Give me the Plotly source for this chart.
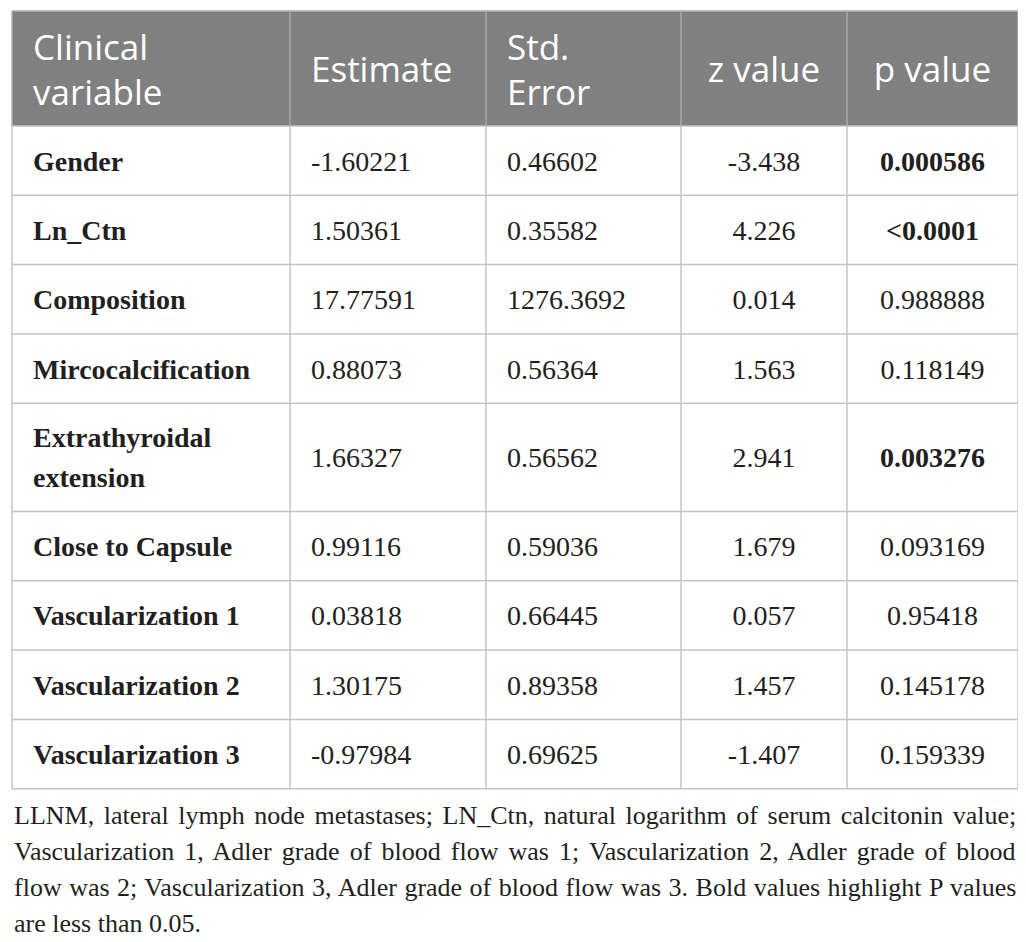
import plotly.graph_objects as go

# table content
headers = ["Clinical<br>variable", "Estimate", "Std.<br>Error", "z value", "p value"]
variables = ["Gender", "Ln_Ctn", "Composition", "Mircocalcification",
             "Extrathyroidal<br>extension", "Close to Capsule",
             "Vascularization 1", "Vascularization 2", "Vascularization 3"]
estimate = ["-1.60221", "1.50361", "17.77591", "0.88073", "1.66327",
            "0.99116", "0.03818", "1.30175", "-0.97984"]
std_error = ["0.46602", "0.35582", "1276.3692", "0.56364", "0.56562",
             "0.59036", "0.66445", "0.89358", "0.69625"]
z_value = ["-3.438", "4.226", "0.014", "1.563", "2.941",
           "1.679", "0.057", "1.457", "-1.407"]
p_value = ["0.000586", "<0.0001", "0.988888", "0.118149", "0.003276",
           "0.093169", "0.95418", "0.145178", "0.159339"]

footnote = [
    "LLNM, lateral lymph node metastases; LN_Ctn, natural logarithm of serum calcitonin value;",
    "Vascularization 1, Adler grade of blood flow was 1; Vascularization 2, Adler grade of blood",
    "flow was 2; Vascularization 3, Adler grade of blood flow was 3. Bold values highlight P values",
    "are less than 0.05.",
]
# extra word spacing (px) to imitate the justified paragraph
foot_spacing = [3.1, 3.6, 1.0, 0]

# page body has an 8px margin, so the figure is shrunk and the axes offset
OFF = 8
W, H = 1026 - 2 * OFF, 942 - 2 * OFF
col_edges = [12, 290, 486, 681, 847, 1018]
align = ["left", "left", "left", "center", "center"]
pad = 21
table_top = 11
header_h = 115
row_h = 69.3
line_h = 39

HEAD_FILL = "#808080"
GRID = "#c4c4c4"
INK = "#231f20"
SERIF = "Liberation Serif"
SANS = "Open Sans"


def esc(s):
    return s.replace("<0", "&lt;0")


def significant(p):
    return float(p.lstrip("<")) < 0.05


columns = [
    ["<b>%s</b>" % v for v in variables],
    estimate,
    std_error,
    z_value,
    ["<b>%s</b>" % esc(p) if significant(p) else p for p in p_value],
]

# row boundaries from number of text lines
y_edges = [table_top, table_top + header_h]
for v in variables:
    n = v.count("<br>") + 1
    y_edges.append(y_edges[-1] + row_h + (n - 1) * line_h)


def col_x(c):
    if align[c] == "left":
        return col_edges[c] + pad
    return (col_edges[c] + col_edges[c + 1]) / 2


def place(texts, c, tops, bottoms, lh, dy):
    xs, ys, ts = [], [], []
    for t, y0, y1 in zip(texts, tops, bottoms):
        parts = t.split("<br>")
        if t.startswith("<b>") and len(parts) > 1:
            parts = ["<b>%s</b>" % p.replace("<b>", "").replace("</b>", "") for p in parts]
        yc = (y0 + y1) / 2 + dy
        for k, p in enumerate(parts):
            xs.append(col_x(c))
            ys.append(yc + (k - (len(parts) - 1) / 2) * lh)
            ts.append(p)
    return xs, ys, ts


fig = go.Figure()

# header background
fig.add_shape(type="rect", x0=col_edges[0], x1=col_edges[-1], y0=y_edges[0], y1=y_edges[1],
              fillcolor=HEAD_FILL, line_width=0, layer="below")

# grid lines
for y in y_edges[1:]:
    fig.add_shape(type="line", x0=col_edges[0], x1=col_edges[-1], y0=y, y1=y,
                  line=dict(color=GRID, width=1.5))
fig.add_shape(type="line", x0=col_edges[0], x1=col_edges[-1], y0=y_edges[0], y1=y_edges[0],
              line=dict(color="#b0b0b0", width=1.5))
for i, x in enumerate(col_edges):
    outer = i in (0, len(col_edges) - 1)
    fig.add_shape(type="line", x0=x, x1=x, y0=y_edges[0], y1=y_edges[1],
                  line=dict(color="#a8a8a8" if not outer else "#b0b0b0", width=1.5))
    fig.add_shape(type="line", x0=x, x1=x, y0=y_edges[1], y1=y_edges[-1],
                  line=dict(color=GRID, width=1.5))

# header text (one text block per cell, plotly handles the line break)
for c, h in enumerate(headers):
    fig.add_trace(go.Scatter(
        x=[col_x(c)], y=[(y_edges[0] + y_edges[1]) / 2 + 5], text=[h], mode="text",
        textposition="middle right" if align[c] == "left" else "middle center",
        textfont=dict(family=SANS, size=35, color="white"),
        hoverinfo="skip", showlegend=False))

# body text
for c, col in enumerate(columns):
    xs, ys, ts = place(col, c, y_edges[1:-1], y_edges[2:], 40, 3)
    fig.add_trace(go.Scatter(
        x=xs, y=ys, text=ts, mode="text",
        textposition="middle right" if align[c] == "left" else "middle center",
        textfont=dict(family=SERIF, size=28, color=INK),
        hoverinfo="skip", showlegend=False))

# footnote
foot_top = 815
foot_gap = 36.2
for i, line in enumerate(footnote):
    txt = '<span style="word-spacing:%.1fpx">%s</span>' % (foot_spacing[i], line)
    fig.add_annotation(x=12, y=foot_top + i * foot_gap, text=txt, showarrow=False,
                       xanchor="left", yanchor="middle",
                       font=dict(family=SERIF, size=26, color=INK))

fig.update_layout(
    width=W, height=H,
    margin=dict(l=0, r=0, t=0, b=0),
    paper_bgcolor="white", plot_bgcolor="white",
    xaxis=dict(range=[OFF, OFF + W], visible=False, fixedrange=True),
    yaxis=dict(range=[OFF + H, OFF], visible=False, fixedrange=True),
)

fig.write_html("out.html")
